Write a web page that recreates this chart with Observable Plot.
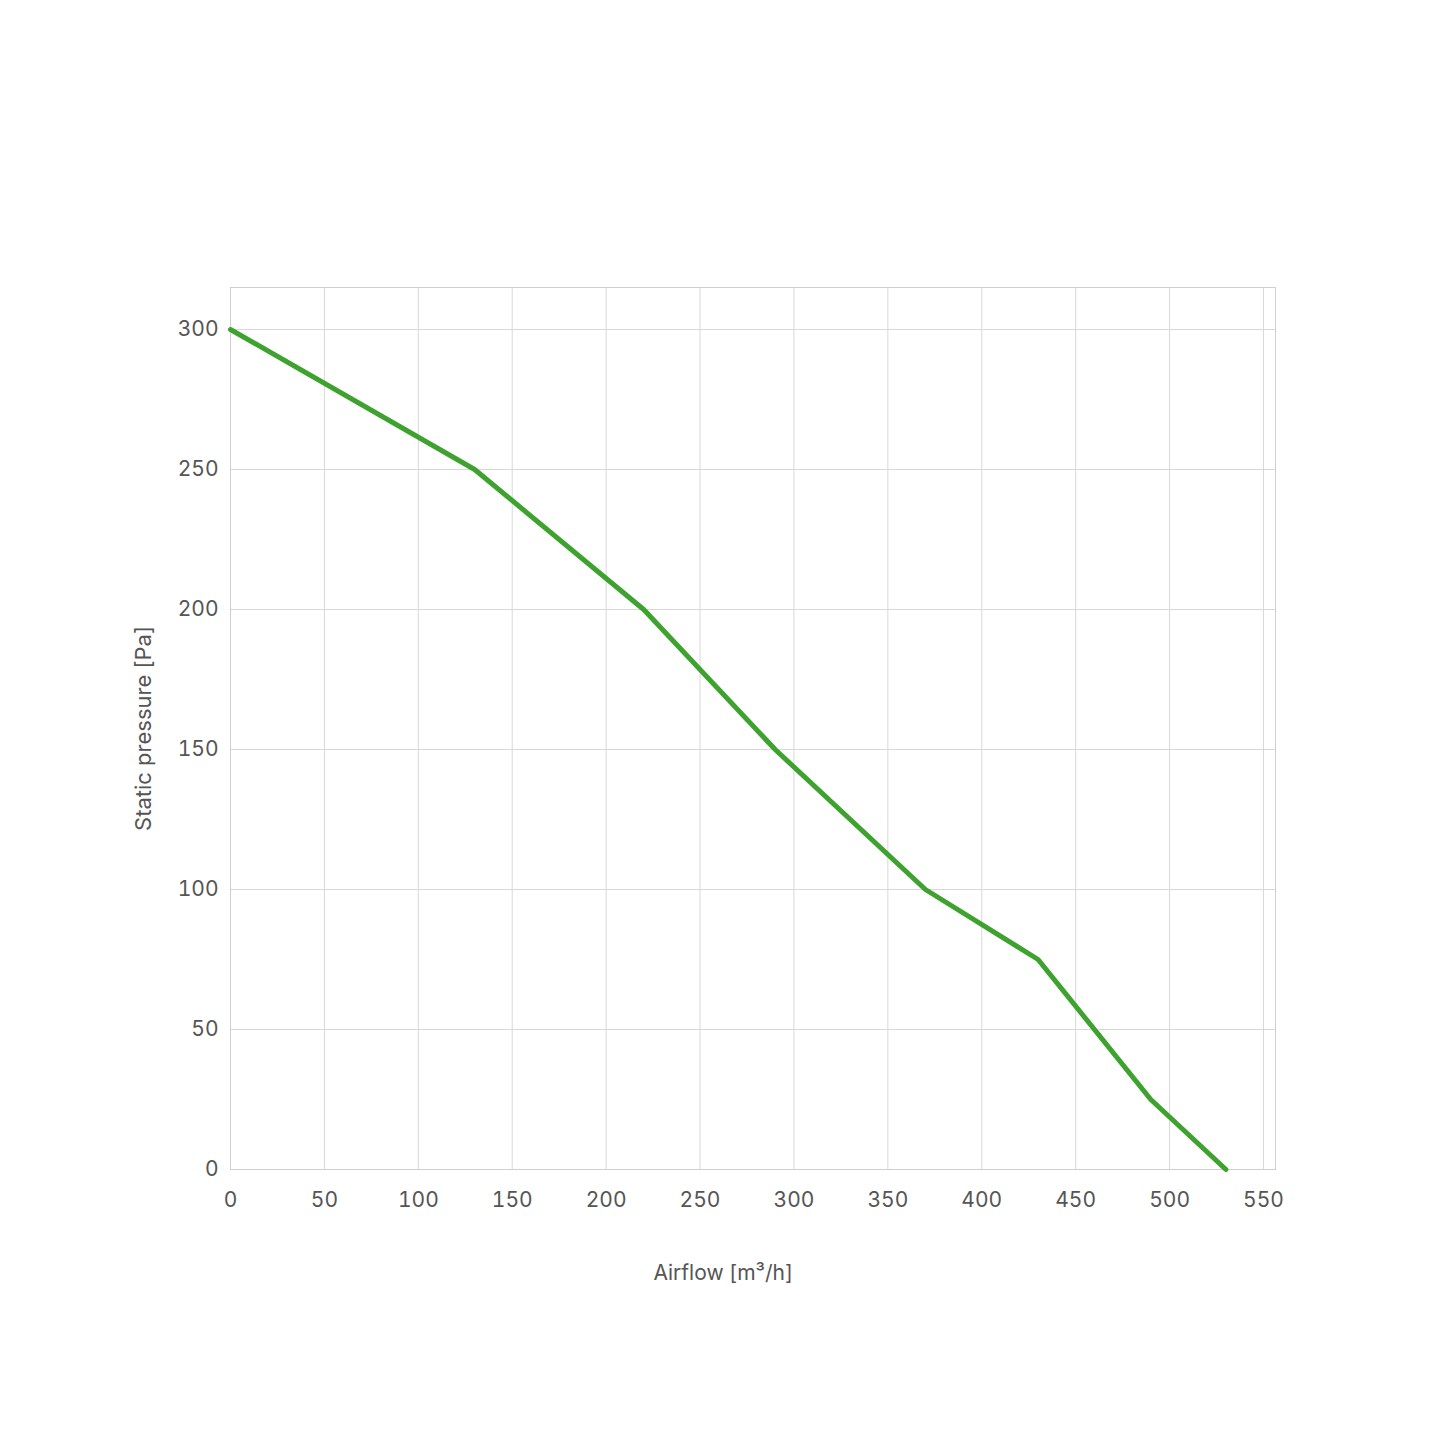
<!DOCTYPE html>
<html>
<head>
<meta charset="utf-8">
<script src="https://cdn.jsdelivr.net/npm/d3@7"></script>
<script src="https://cdn.jsdelivr.net/npm/@observablehq/plot@0.6"></script>
<style>
  html, body { margin: 0; padding: 0; background: #fff; }
  #chart svg { display: block; }
</style>
</head>
<body>
<div id="chart"></div>
<script>
const airflow = [0, 130, 220, 290, 370, 430, 490, 530];
const pressure = [300, 250, 200, 150, 100, 75, 25, 0];
const xTicks = [0, 50, 100, 150, 200, 250, 300, 350, 400, 450, 500, 550];
const yTicks = [0, 50, 100, 150, 200, 250, 300];
const xLabel = "Airflow [m³/h]";
const yLabel = "Static pressure [Pa]";

const data = airflow.map((x, i) => ({x, y: pressure[i]}));
const font = "Inter, 'Open Sans', sans-serif";

const chart = Plot.plot({
  width: 1445,
  height: 1445,
  marginLeft: 230,
  marginRight: 170,
  marginTop: 287,
  marginBottom: 276,
  style: {fontFamily: font, fontSize: "21px", color: "#555", background: "#fff"},
  x: {domain: [0, 556.4], ticks: xTicks},
  y: {domain: [0, 315], ticks: yTicks},
  marks: [
    Plot.gridX(xTicks, {stroke: "#d8d8d8", strokeOpacity: 1, strokeWidth: 1}),
    Plot.gridY(yTicks, {stroke: "#d8d8d8", strokeOpacity: 1, strokeWidth: 1}),
    Plot.frame({stroke: "#cfcfcf", strokeWidth: 1}),
    Plot.axisX(xTicks, {tickSize: 0, tickPadding: 23, label: null, fill: "#555", fontSize: 21}),
    Plot.axisY(yTicks, {tickSize: 0, tickPadding: 12, label: null, fill: "#555", fontSize: 21}),
    Plot.text([xLabel], {frameAnchor: "bottom", dy: 110, dx: -30, fill: "#555", fontSize: 21}),
    Plot.text([yLabel], {frameAnchor: "left", textAnchor: "middle", dx: -87, rotate: -90, fill: "#555", fontSize: 22}),
    Plot.line(data, {x: "x", y: "y", stroke: "#3ea22f", strokeWidth: 5, strokeLinejoin: "round", strokeLinecap: "round"})
  ]
});
document.getElementById("chart").appendChild(chart);
</script>
</body>
</html>
